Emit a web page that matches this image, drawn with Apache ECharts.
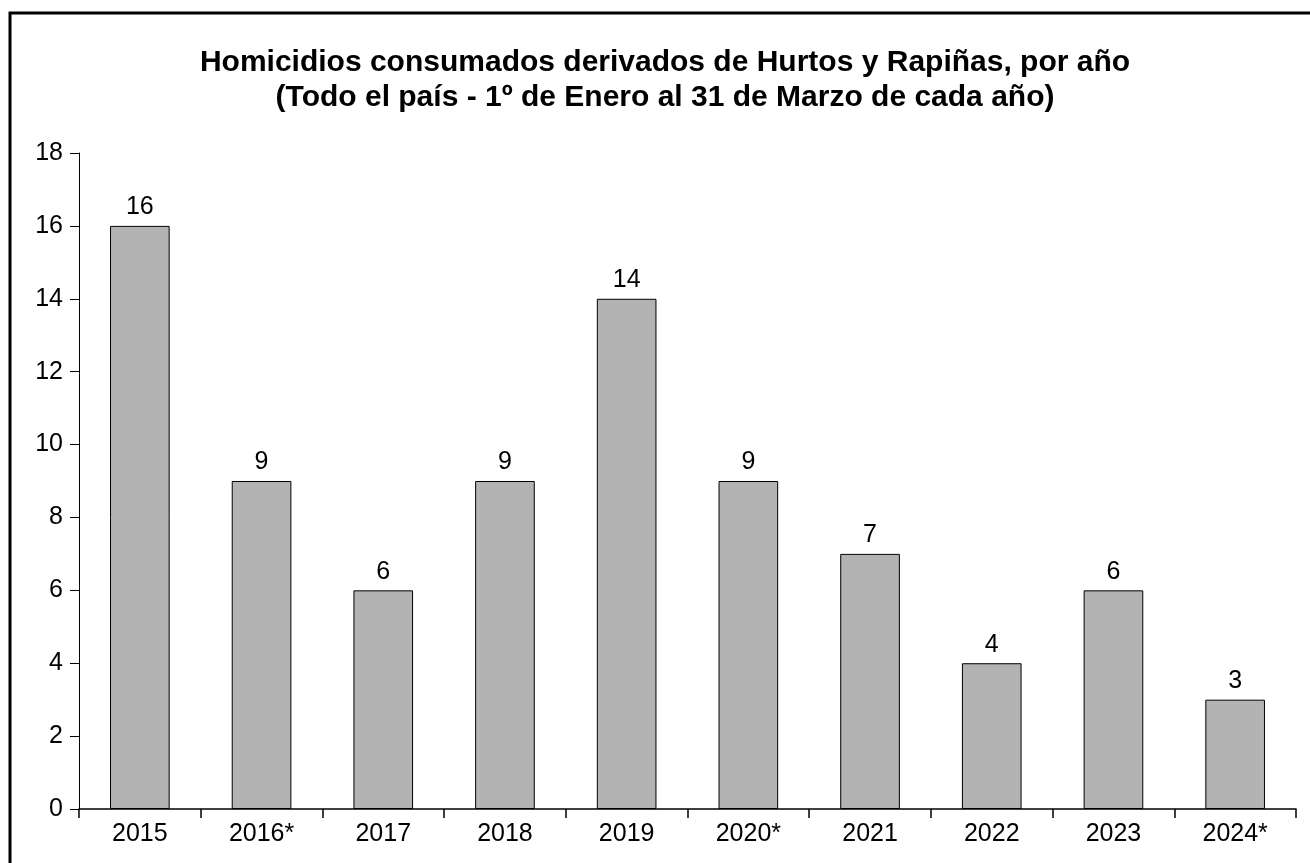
<!DOCTYPE html>
<html>
<head>
<meta charset="utf-8">
<script src="https://cdn.jsdelivr.net/npm/echarts@6/dist/echarts.min.js"></script>
<style>
html, body { margin: 0; padding: 0; background: #fff; }
#main { width: 1310px; height: 863px; }
</style>
</head>
<body>
<div id="main"></div>
<script>
var years = ['2015', '2016*', '2017', '2018', '2019', '2020*', '2021', '2022', '2023', '2024*']
var homicidios = [16, 9, 6, 9, 14, 9, 7, 4, 6, 3]

var myChart = echarts.init(document.getElementById('main'));
var font = '"Liberation Sans", Arial, sans-serif'

var option = {
    animation: false,
    title: {
        text: 'Homicidios consumados derivados de Hurtos y Rapiñas, por año\n(Todo el país - 1º de Enero al 31 de Marzo de cada año)',
        left: 660,
        top: 40,
        textAlign: 'center',
        textStyle: {
            fontFamily: font,
            fontSize: 30,
            fontWeight: 'bold',
            color: '#000',
            lineHeight: 35
        }
    },
    // outer frame, right and bottom edges fall outside the picture
    graphic: [{
        type: 'rect',
        shape: { x: 10, y: 13, width: 1320, height: 880 },
        style: { fill: 'none', stroke: '#000', lineWidth: 3 }
    }],
    grid: {
        left: 79,
        right: 14,
        top: 153,
        bottom: 54
    },
    xAxis: {
        type: 'category',
        data: years,
        axisLine: { lineStyle: { color: '#000', width: 1.5 } },
        axisTick: { show: true, length: 9, lineStyle: { color: '#000', width: 1.5 } },
        axisLabel: { color: '#000', fontFamily: font, fontSize: 25, margin: 13 }
    },
    yAxis: {
        type: 'value',
        min: 0,
        max: 18,
        interval: 2,
        splitLine: { show: false },
        axisLine: { show: true, lineStyle: { color: '#000', width: 1 } },
        axisTick: { show: true, length: 9, lineStyle: { color: '#000' } },
        axisLabel: { color: '#000', fontFamily: font, fontSize: 25, margin: 16 }
    },
    series: [{
        type: 'bar',
        data: homicidios,
        barWidth: '49%',
        itemStyle: { color: '#b3b3b3', borderColor: '#000', borderWidth: 1 },
        label: {
            show: true,
            position: 'top',
            distance: 6,
            color: '#000',
            fontFamily: font,
            fontSize: 25
        }
    }]
};
myChart.setOption(option);
</script>
</body>
</html>
